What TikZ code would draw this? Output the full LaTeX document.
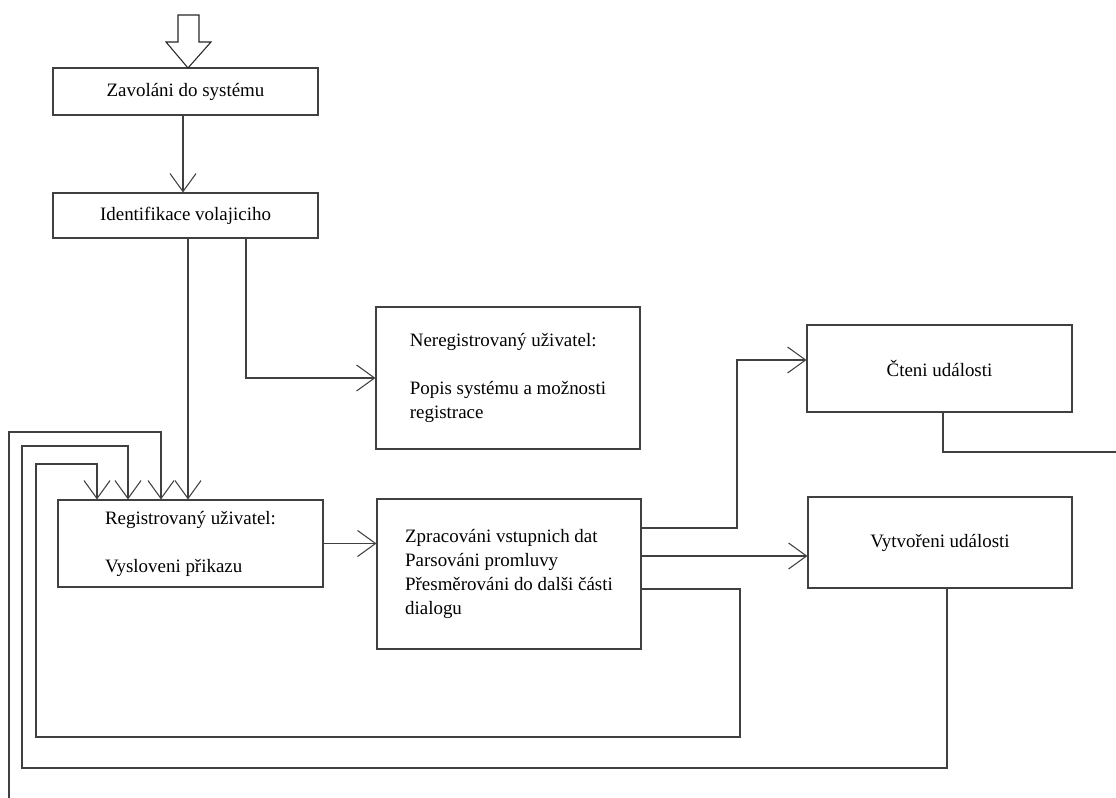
\documentclass[tikz,border=0pt]{standalone}
\usepackage{fontspec}
\setmainfont{Liberation Serif}
\usepackage{tikz}
\usetikzlibrary{arrows.meta, calc}
\colorlet{ink}{black!75}
\def\pxu{0.75pt}

\begin{document}
\begin{tikzpicture}[x=0.75pt, y=-0.75pt,
    box/.style={draw=ink, line width=0.8pt, minimum width=265*\pxu, inner sep=0pt,
      font=\fontsize{14.2}{18}\selectfont},
    line/.style={draw=ink, line width=0.8pt},
    arr/.style={line, -{Straight Barb[length=13.5pt, width=19.5pt, line width=0.8pt]}}]
  \useasboundingbox (0,0) rectangle (1116,798);

  % boxes
  \node [box, minimum height=47*\pxu] at (185.5,91.5) (zav) {Zavoláni do systému};
  \node [box, minimum height=45*\pxu] at (185.5,215.5) (ident) {Identifikace volajiciho};
  \node [box, minimum height=142*\pxu, minimum width=264*\pxu, align=left] at (508,378) (nereg)
    {Neregistrovaný uživatel:\\[18pt]Popis systému a možnosti\\registrace};
  \node [box, minimum height=87*\pxu, align=left] at (190.5,543.5) (reg)
    {Registrovaný uživatel:\\[18pt]Vysloveni přikazu};
  \node [box, minimum height=150*\pxu, minimum width=264*\pxu, align=left] at (509,574) (zpr)
    {Zpracováni vstupnich dat\\Parsováni promluvy\\Přesměrováni do dalši části\\dialogu};
  \node [box, minimum height=87*\pxu] at (939.5,368.5) (cteni) {Čteni události};
  \node [box, minimum height=91*\pxu, minimum width=264*\pxu] at (940,542.5) (vytv) {Vytvořeni události};

  % entry arrow
  \draw [line, draw=black!85] (178,15) -- (199,15) -- (199,42) -- (211,42) -- (188,68)
    -- (166,42) -- (178,42) -- cycle;

  % bend points
  \coordinate (up) at (737,360);
  \coordinate (loopA) at (740,737);
  \coordinate (loopB) at (947,768);
  \coordinate (feedA) at (36,464);
  \coordinate (feedB) at (22,446);
  \coordinate (feedC) at (9,432);
  \coordinate (entry) at (9,798);
  \coordinate (exit) at (1116,452);

  \draw [arr] ([xshift=-2.5*\pxu]zav.south) -- ([xshift=-2.5*\pxu]ident.north);
  \draw [arr] ([xshift=2.5*\pxu]ident.south) -- ([xshift=-2.5*\pxu]reg.north);
  \draw [arr] ([xshift=60.5*\pxu]ident.south) |- (nereg);
  \draw [arr] (reg) -- (reg -| zpr.west);

  \path ([yshift=46*\pxu]zpr.east) coordinate (zA)
        ([yshift=18*\pxu]zpr.east) coordinate (zB)
        ([yshift=-15*\pxu]zpr.east) coordinate (zC);
  \draw [arr] (zA) -| (up) -- (up -| cteni.west);
  \draw [arr] (zB) -- (zB -| vytv.west);
  \draw [arr] (zC) -| (loopA) -| (feedA) -| ([xshift=-93.5*\pxu]reg.north);
  \draw [arr] (vytv.south -| loopB) -- (loopB) -| (feedB) -| ([xshift=-62.5*\pxu]reg.north);
  \draw [arr] (entry) -- (feedC) -| ([xshift=-29.5*\pxu]reg.north);
  \draw [line] ([xshift=3.5*\pxu]cteni.south) |- (exit);
\end{tikzpicture}
\end{document}
